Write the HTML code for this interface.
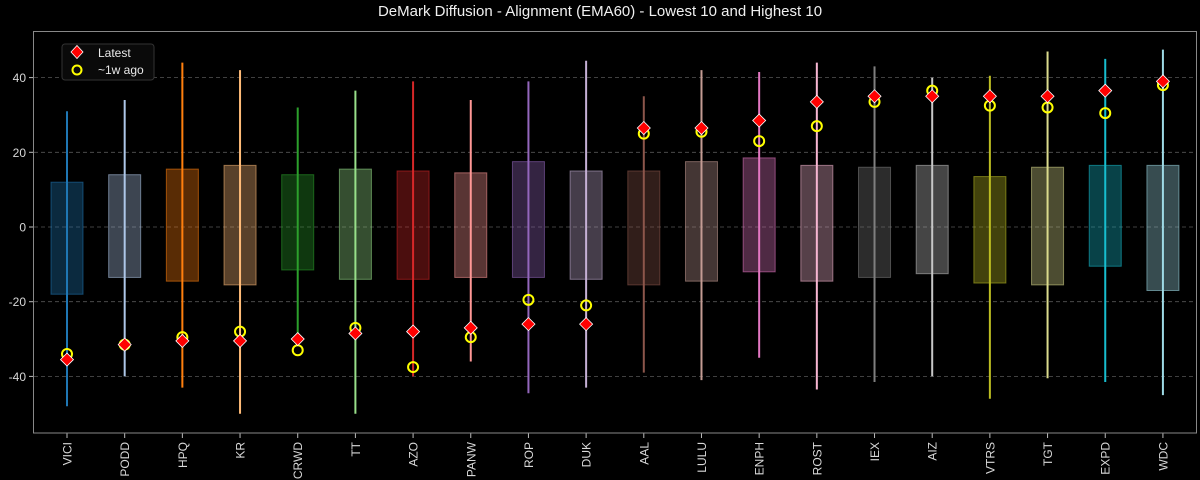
<!DOCTYPE html>
<html><head><meta charset="utf-8"><style>
html,body{margin:0;padding:0;background:#000;}
svg{display:block;font-family:"Liberation Sans","DejaVu Sans",sans-serif;}
</style></head><body>
<svg id="c" width="1200" height="480" xmlns="http://www.w3.org/2000/svg">
<rect width="1200" height="480" fill="#000"/>
<text x="600" y="16" fill="#f0f0f0" font-size="15" text-anchor="middle">DeMark Diffusion - Alignment (EMA60) - Lowest 10 and Highest 10</text>
<g id="g"></g>
</svg>
<script>
var g=document.getElementById('g');
function Y(v){return 227-3.735*v;}
var h='';
// grid + y ticks
[40,20,0,-20,-40].forEach(function(v){
 var y=Y(v);
 h+='<line x1="34" x2="1196" y1="'+y+'" y2="'+y+'" stroke="#555" stroke-width="0.8" stroke-dasharray="4,3"/>';
 h+='<line x1="29" x2="34" y1="'+y+'" y2="'+y+'" stroke="#bbb"/>';
 h+='<text x="26" y="'+(y+4.5)+'" fill="#d8d8d8" font-size="12" text-anchor="end">'+v+'</text>';
});
var cols=['#1f77b4','#aec7e8','#ff7f0e','#ffbb78','#2ca02c','#98df8a','#d62728','#ff9896','#9467bd','#c5b0d5','#8c564b','#c49c94','#e377c2','#f7b6d2','#7f7f7f','#c7c7c7','#bcbd22','#dbdb8d','#17becf','#9edae5'];
var d=[
['VICI',31,-48,12,-18,-35.5,-34],
['PODD',34,-40,14,-13.5,-31.5,-31.5],
['HPQ',44,-43,15.5,-14.5,-30.5,-29.5],
['KR',42,-50,16.5,-15.5,-30.5,-28],
['CRWD',32,-30,14,-11.5,-30,-33],
['TT',36.5,-50,15.5,-14,-28.5,-27],
['AZO',39,-40,15,-14,-28,-37.5],
['PANW',34,-36,14.5,-13.5,-27,-29.5],
['ROP',39,-44.5,17.5,-13.5,-26,-19.5],
['DUK',44.5,-43,15,-14,-26,-21],
['AAL',35,-39,15,-15.5,26.5,25],
['LULU',42,-41,17.5,-14.5,26.5,25.5],
['ENPH',41.5,-35,18.5,-12,28.5,23],
['ROST',44,-43.5,16.5,-14.5,33.5,27],
['IEX',43,-41.5,16,-13.5,35,33.5],
['AIZ',40,-40,16.5,-12.5,35,36.5],
['VTRS',40.5,-46,13.5,-15,35,32.5],
['TGT',47,-40.5,16,-15.5,35,32],
['EXPD',45,-41.5,16.5,-10.5,36.5,30.5],
['WDC',47.5,-45,16.5,-17,39,38]];
d.forEach(function(r,i){
 var x=67+i*57.68, c=cols[i];
 h+='<rect x="'+(x-16)+'" y="'+Y(r[3])+'" width="32" height="'+(Y(r[4])-Y(r[3]))+'" fill="'+c+'" fill-opacity="0.35" stroke="'+c+'" stroke-opacity="0.55" stroke-width="1"/>';
 h+='<line x1="'+x+'" x2="'+x+'" y1="'+Y(r[1])+'" y2="'+Y(r[2])+'" stroke="'+c+'" stroke-width="2"/>';
 h+='<circle cx="'+x+'" cy="'+Y(r[6])+'" r="5" fill="none" stroke="#ffff00" stroke-width="2"/>';
 var ly=Y(r[5]);
 h+='<polygon points="'+x+','+(ly-6.5)+' '+(x+6.5)+','+ly+' '+x+','+(ly+6.5)+' '+(x-6.5)+','+ly+'" fill="#ff0000" stroke="#fff" stroke-width="0.8"/>';
 h+='<line x1="'+x+'" x2="'+x+'" y1="433" y2="438" stroke="#bbb"/>';
 h+='<text transform="translate('+(x+4.5)+',442) rotate(-90)" fill="#d8d8d8" font-size="12" text-anchor="end">'+r[0]+'</text>';
});
// axes frame
h+='<rect x="33.5" y="31.5" width="1163" height="401.5" fill="none" stroke="#888" stroke-width="1"/>';
// legend
h+='<rect x="62" y="44" width="92" height="36" rx="3" fill="#0a0a0a" stroke="#333"/>';
h+='<polygon points="77,45.5 83,52 77,58.5 71,52" fill="#ff0000" stroke="#fff" stroke-width="0.8"/>';
h+='<text x="98" y="57" fill="#e8e8e8" font-size="12">Latest</text>';
h+='<circle cx="77" cy="70" r="4.5" fill="none" stroke="#ffff00" stroke-width="2"/>';
h+='<text x="98" y="74" fill="#e8e8e8" font-size="12">~1w ago</text>';
g.innerHTML=h;
</script>
</body></html>
